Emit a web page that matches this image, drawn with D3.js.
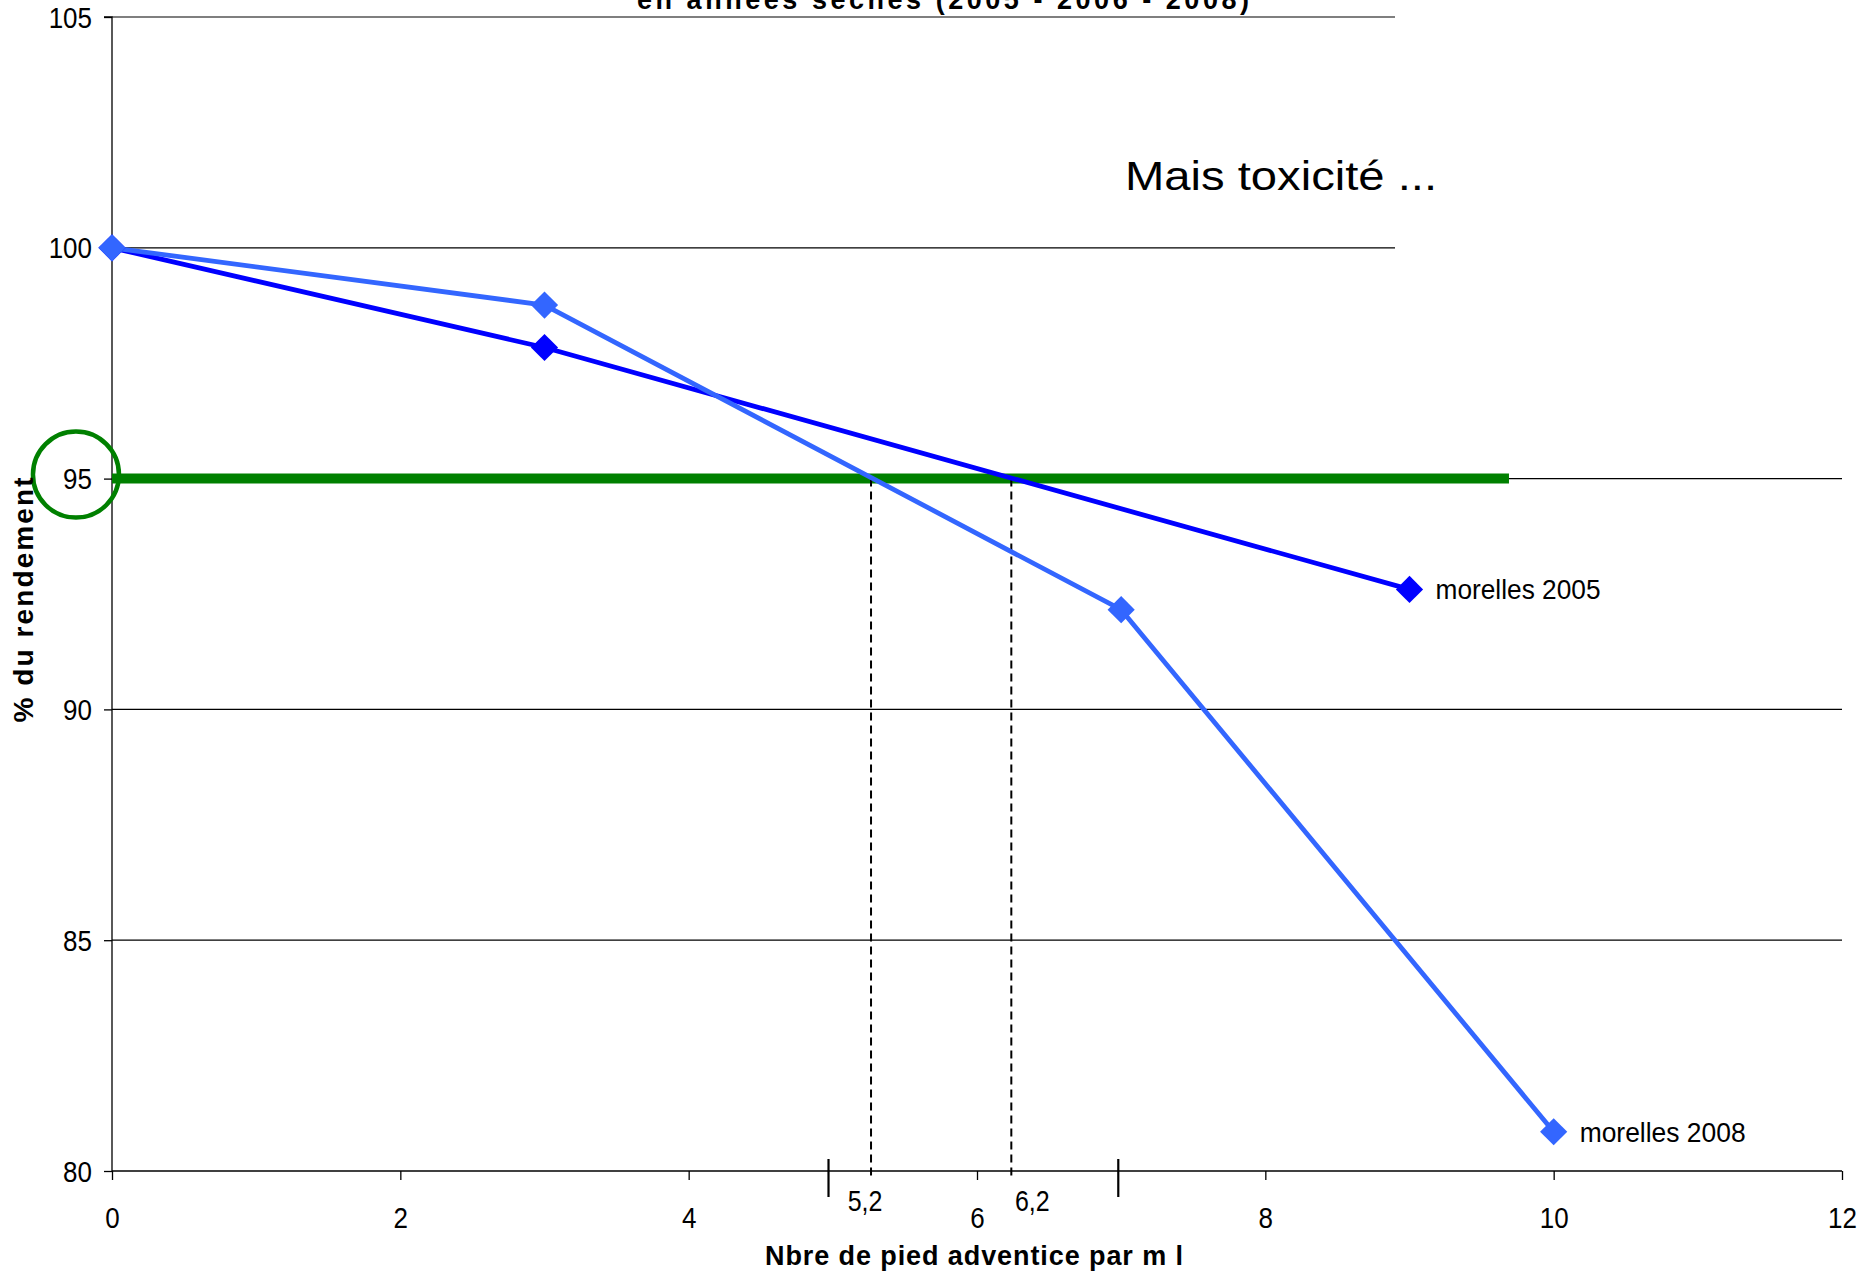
<!DOCTYPE html>
<html>
<head>
<meta charset="utf-8">
<script src="https://cdn.jsdelivr.net/npm/d3@7"></script>
<style>
  html, body { margin: 0; padding: 0; background: #fff; }
  svg { display: block; }
  text { font-family: "Liberation Sans", Arial, sans-serif; fill: #000; }
</style>
</head>
<body>
<svg id="chart" width="1874" height="1278"></svg>
<script>
// ---- Data ----
const xTicks = [0, 2, 4, 6, 8, 10, 12];
const yTicks = [80, 85, 90, 95, 100, 105];
const series2005X = [0, 3, 9];
const series2005Y = [100, 97.84, 92.6];
const series2008X = [0, 3, 7, 10];
const series2008Y = [100, 98.76, 92.16, 80.85];
const seriesNames = ["morelles 2005", "morelles 2008"];
const seriesColors = ["#0000FF", "#3366FF"];
const thresholdValue = 95;
const thresholdEnd = 9.69;
const thresholdLabels = ["5,2", "6,2"];
const bracketTicks = [4.97, 6.98];
const titleText = "en années sèches (2005 - 2006 - 2008)";
const noteText = "Mais toxicité ...";
const xTitle = "Nbre de pied adventice par m l";
const yTitle = "% du rendement";

// ---- Scales ----
const svg = d3.select("#chart");
const x = d3.scaleLinear().domain([0, 12]).range([112, 1842]);
const y = d3.scaleLinear().domain([80, 105]).range([1171, 17]);
const SY = 1.15; // vertical stretch of the original tick font

// gridlines
svg.append("g").selectAll("line").data(yTicks.filter(d => d > 80)).join("line")
  .attr("x1", x(0)).attr("x2", x(12))
  .attr("y1", d => y(d)).attr("y2", d => y(d))
  .attr("stroke", "#000").attr("stroke-width", 1.2);

// white box covering the top-right (as in the slide)
svg.append("rect").attr("x", 1395).attr("y", 0).attr("width", 479).attr("height", 300).attr("fill", "#fff");

// title (cut off at top, as in the reference)
svg.append("text").attr("x", 637).attr("y", 8.5)
  .attr("font-size", 27).attr("font-weight", "bold")
  .attr("textLength", 612).attr("lengthAdjust", "spacing")
  .text(titleText);

// axes
const yAxis = d3.axisLeft(y).tickValues(yTicks).tickSize(8).tickPadding(12).tickFormat(d3.format("d"));
const gy = svg.append("g").attr("transform", `translate(${x(0)},0)`).call(yAxis);
gy.select(".domain").attr("stroke", "#000").attr("stroke-width", 1.3).attr("d", `M-8,${y(105)}H0V${y(80)}`);
gy.selectAll(".tick line").attr("stroke", "#000").attr("stroke-width", 1.3);
gy.selectAll(".tick text").attr("font-size", 26).attr("font-family", "Liberation Sans, Arial, sans-serif").attr("fill", "#000")
  .attr("dy", 0).attr("y", 10 / SY).attr("transform", `scale(1,${SY})`);

const xAxis = d3.axisBottom(x).tickValues(xTicks).tickSize(9).tickPadding(27).tickFormat(d3.format("d"));
const gx = svg.append("g").attr("transform", `translate(0,${y(80)})`).call(xAxis);
gx.select(".domain").attr("stroke", "#000").attr("stroke-width", 1.3).attr("d", `M${x(0)},0H${x(12)}`);
gx.selectAll(".tick line").attr("stroke", "#000").attr("stroke-width", 1.3);
gx.selectAll(".tick text").attr("font-size", 26).attr("font-family", "Liberation Sans, Arial, sans-serif").attr("fill", "#000")
  .attr("dy", 0).attr("y", 57 / SY).attr("transform", `scale(1,${SY})`);

// threshold line
svg.append("line")
  .attr("x1", x(0)).attr("x2", x(thresholdEnd))
  .attr("y1", y(thresholdValue)).attr("y2", y(thresholdValue))
  .attr("stroke", "#008000").attr("stroke-width", 10);

// circle around 95
svg.append("circle").attr("cx", x(-0.25)).attr("cy", y(thresholdValue) - 4).attr("r", 43)
  .attr("fill", "none").attr("stroke", "#008000").attr("stroke-width", 4.5);

// intersections
function crossing(xs, ys, v) {
  for (let i = 0; i < xs.length - 1; i++) {
    if ((ys[i] - v) * (ys[i + 1] - v) <= 0) {
      return xs[i] + (v - ys[i]) * (xs[i + 1] - xs[i]) / (ys[i + 1] - ys[i]);
    }
  }
  return null;
}
const crossings = [crossing(series2008X, series2008Y, thresholdValue), crossing(series2005X, series2005Y, thresholdValue)];

svg.append("g").selectAll("line").data(crossings).join("line")
  .attr("x1", d => x(d) - 2).attr("x2", d => x(d) - 2)
  .attr("y1", y(thresholdValue)).attr("y2", y(80) + 7)
  .attr("stroke", "#000").attr("stroke-width", 2).attr("stroke-dasharray", "8,5");

svg.append("g").selectAll("text").data(crossings).join("text")
  .attr("x", (d, i) => x(d) + (i === 0 ? -8 : 19)).attr("y", 1211 / SY)
  .attr("transform", `scale(1,${SY})`)
  .attr("text-anchor", "middle").attr("font-size", 25)
  .text((d, i) => thresholdLabels[i]);

svg.append("g").selectAll("line").data(bracketTicks).join("line")
  .attr("x1", d => x(d)).attr("x2", d => x(d))
  .attr("y1", 1159).attr("y2", 1197)
  .attr("stroke", "#000").attr("stroke-width", 2.2);

// series
const seriesData = [
  series2005X.map((d, i) => [d, series2005Y[i]]),
  series2008X.map((d, i) => [d, series2008Y[i]])
];
const line = d3.line().x(d => x(d[0])).y(d => y(d[1]));
const diamond = d3.symbol().type(d3.symbolSquare).size(370);

seriesData.forEach((pts, s) => {
  svg.append("path").datum(pts).attr("d", line)
    .attr("fill", "none").attr("stroke", seriesColors[s]).attr("stroke-width", 4.8)
    .attr("stroke-linejoin", "round");
});
seriesData.forEach((pts, s) => {
  svg.append("g").selectAll("path").data(pts).join("path")
    .attr("d", diamond)
    .attr("transform", d => `translate(${x(d[0])},${y(d[1])}) rotate(45)`)
    .attr("fill", seriesColors[s]);
  const last = pts[pts.length - 1];
  svg.append("text").attr("x", x(last[0]) + 26).attr("y", y(last[1]) + 10)
    .attr("font-size", 27).attr("textLength", s === 0 ? 165 : 166).attr("lengthAdjust", "spacingAndGlyphs")
    .text(seriesNames[s]);
});

// note
svg.append("text").attr("x", 1125).attr("y", 190).attr("font-size", 40)
  .attr("textLength", 312).attr("lengthAdjust", "spacingAndGlyphs")
  .text(noteText);

// axis titles
svg.append("text").attr("x", 974).attr("y", 1265).attr("text-anchor", "middle")
  .attr("font-size", 27).attr("font-weight", "bold")
  .attr("textLength", 418).attr("lengthAdjust", "spacing")
  .text(xTitle);
svg.append("text").attr("transform", "translate(33,600) rotate(-90)").attr("text-anchor", "middle")
  .attr("font-size", 28).attr("font-weight", "bold")
  .attr("textLength", 245).attr("lengthAdjust", "spacing")
  .text(yTitle);
</script>
</body>
</html>
